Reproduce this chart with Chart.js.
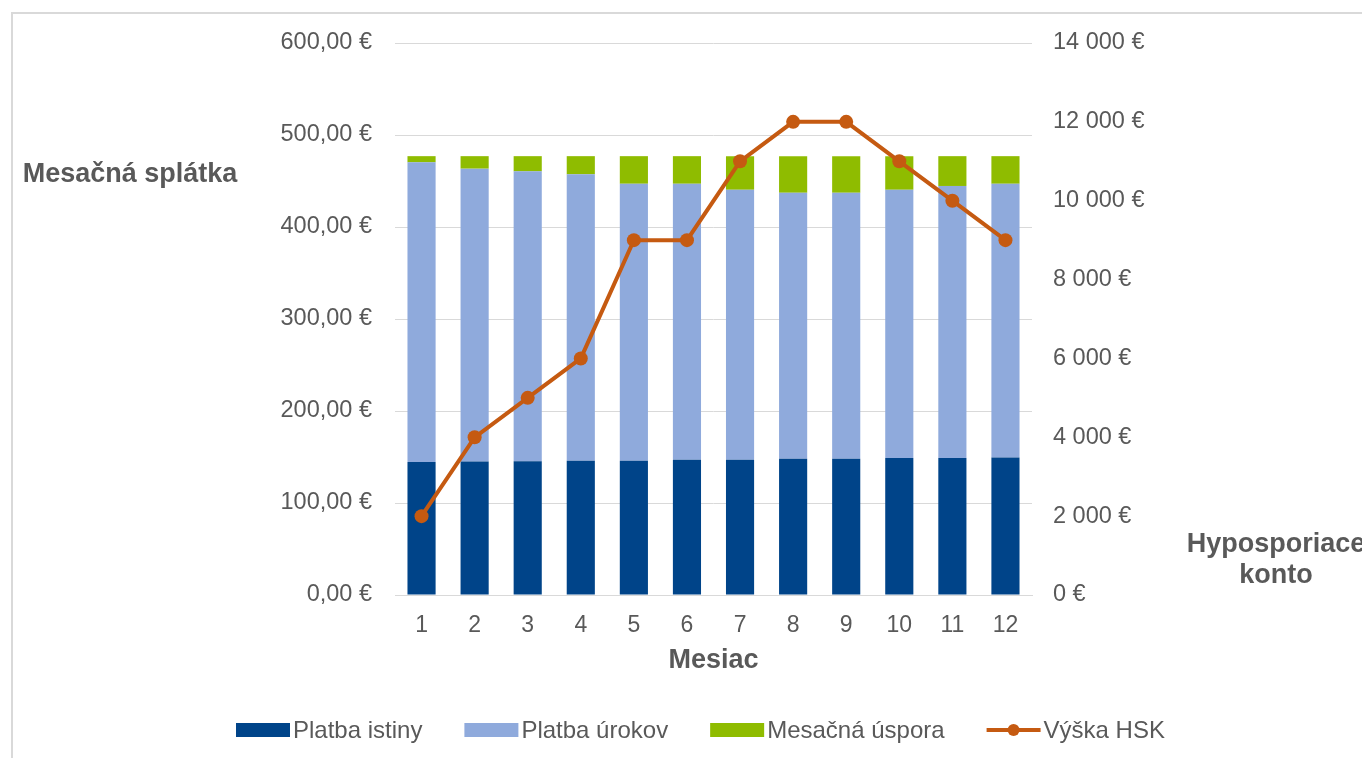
<!DOCTYPE html>
<html>
<head>
<meta charset="utf-8">
<script src="https://cdn.jsdelivr.net/npm/chart.js@4.4.0/dist/chart.umd.min.js"></script>
<style>
  body { margin: 0; background: #fff; }
  #wrap { position: relative; width: 1362px; height: 758px; overflow: hidden; }
  #frame { position: absolute; left: 11px; top: 12px; right: -5px; bottom: -5px;
           border-left: 2px solid #d9d9d9; border-top: 2px solid #d9d9d9; }
  canvas { position: absolute; left: 0; top: 0; }
</style>
</head>
<body>
<div id="wrap">
  <div id="frame"></div>
  <canvas id="chart" width="1362" height="758"></canvas>
</div>
<script>
// months
const months = ['1', '2', '3', '4', '5', '6', '7', '8', '9', '10', '11', '12'];

// monthly payment parts (EUR)
const platbaIstiny = [144.5, 145, 145.5, 146, 146, 147, 147, 148, 148, 149, 149, 149.5];
const platbaUrokov = [325.8, 318.4, 315, 311.3, 301, 300, 293.5, 289.3, 289.3, 291.5, 295.6, 297.5];
const mesacnaUspora = [6.7, 13.6, 16.5, 19.7, 30, 30, 36.5, 39.7, 39.7, 36.5, 32.4, 30];

// account balance (right axis)
const vyskaHSK = [2000, 4000, 5000, 6000, 9000, 9000, 11000, 12000, 12000, 11000, 10000, 9000];

const textColor = '#595959';
const gridColor = '#d9d9d9';
const fontFam = "'Liberation Sans', Arial, sans-serif";

Chart.defaults.font.family = fontFam;
Chart.defaults.color = textColor;

function fmtLeft(v) {
  return v.toFixed(2).replace('.', ',') + ' €';
}
function fmtRight(v) {
  return String(v).replace(/\B(?=(\d{3})+(?!\d))/g, ' ') + ' €';
}

// titles + legend drawn by hand so they stay horizontal
const extras = {
  id: 'extras',
  afterDraw(chart) {
    const ctx = chart.ctx;
    const area = chart.chartArea;
    ctx.save();
    ctx.fillStyle = textColor;
    ctx.font = 'bold 27px ' + fontFam;
    ctx.textAlign = 'center';
    ctx.textBaseline = 'middle';
    ctx.fillText('Mesačná splátka', 130, 175);
    ctx.fillText('Mesiac', (area.left + area.right) / 2, 661);
    ctx.fillText('Hyposporiace', 1276, 545);
    ctx.fillText('konto', 1276, 576);

    // legend
    ctx.font = '24px ' + fontFam;
    ctx.textAlign = 'left';
    let x = 236;
    const y = 730;
    chart.data.datasets.forEach(ds => {
      if (ds.type === 'line') {
        ctx.strokeStyle = ds.borderColor;
        ctx.lineWidth = 4;
        ctx.beginPath();
        ctx.moveTo(x, y);
        ctx.lineTo(x + 54, y);
        ctx.stroke();
        ctx.fillStyle = ds.borderColor;
        ctx.beginPath();
        ctx.arc(x + 27, y, 6, 0, Math.PI * 2);
        ctx.fill();
      } else {
        ctx.fillStyle = ds.backgroundColor;
        ctx.fillRect(x, y - 7, 54, 14);
      }
      ctx.fillStyle = textColor;
      ctx.fillText(ds.label, x + 57, y + 1);
      x += 57 + ctx.measureText(ds.label).width + 42;
    });
    ctx.restore();
  }
};

new Chart(document.getElementById('chart'), {
  data: {
    labels: months,
    datasets: [
      {
        type: 'bar',
        label: 'Platba istiny',
        data: platbaIstiny,
        backgroundColor: '#004489',
        stack: 's',
        order: 1
      },
      {
        type: 'bar',
        label: 'Platba úrokov',
        data: platbaUrokov,
        backgroundColor: '#8FAADC',
        stack: 's',
        order: 1
      },
      {
        type: 'bar',
        label: 'Mesačná úspora',
        data: mesacnaUspora,
        backgroundColor: '#8FBC00',
        stack: 's',
        order: 1
      },
      {
        type: 'line',
        label: 'Výška HSK',
        data: vyskaHSK,
        yAxisID: 'y2',
        borderColor: '#C55A11',
        backgroundColor: '#C55A11',
        borderWidth: 4,
        pointRadius: 7,
        pointBackgroundColor: '#C55A11',
        pointBorderWidth: 0,
        tension: 0,
        order: 0
      }
    ]
  },
  options: {
    responsive: false,
    animation: false,
    layout: { padding: { top: 43, bottom: 83, left: 0, right: 0 } },
    datasets: {
      bar: { categoryPercentage: 1, barPercentage: 0.53 }
    },
    plugins: {
      legend: { display: false },
      tooltip: { enabled: false }
    },
    scales: {
      x: {
        stacked: true,
        grid: { display: false, drawTicks: false },
        border: { display: true, color: gridColor, width: 1 },
        ticks: { padding: 17, font: { size: 23 }, color: textColor },
        afterFit(scale) { scale.height = 80; }
      },
      y: {
        position: 'left',
        stacked: true,
        min: 0,
        max: 600,
        ticks: { stepSize: 100, padding: 23, font: { size: 23.5 }, color: textColor, callback: fmtLeft },
        grid: { color: gridColor, drawTicks: false },
        border: { display: false },
        afterFit(scale) { scale.width = 395; }
      },
      y2: {
        position: 'right',
        min: 0,
        max: 14000,
        ticks: { stepSize: 2000, padding: 21, font: { size: 23.5 }, color: textColor, callback: fmtRight },
        grid: { display: false, drawTicks: false },
        border: { display: false },
        afterFit(scale) { scale.width = 330; }
      }
    }
  },
  plugins: [extras]
});
</script>
</body>
</html>
